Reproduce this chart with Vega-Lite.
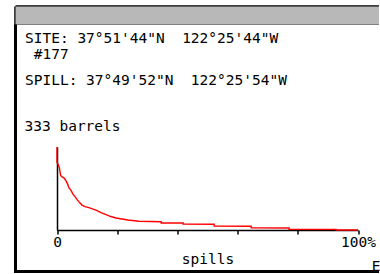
{
  "$schema": "https://vega.github.io/schema/vega-lite/v6.json",
  "padding": {"left": 13.5, "top": 4.5, "right": -3, "bottom": -0.5},
  "background": "white",
  "spacing": 0,
  "bounds": "flush",
  "config": {"font": "DejaVu Sans Mono", "view": {"stroke": null}},
  "vconcat": [
    {
      "width": 363.5,
      "height": 17.5,
      "view": {"stroke": "black", "strokeWidth": 2.5, "strokeDash": [363.5, 17.5, 381, 0]},
      "data": {"values": [{"part": "title bar"}]},
      "mark": {"type": "rect", "color": "#b8b8b8"}
    },
    {
      "width": 363.5,
      "height": 247,
      "view": {"stroke": "black", "strokeWidth": 3, "strokeDash": [0, 610.5, 610.5, 0], "fill": "white"},
      "title": {
        "text": ["SITE: 37°51'44\"N\u00a0\u00a0122°25'44\"W", "\u200b\u00a0#177"],
        "subtitle": "SPILL: 37°49'52\"N\u00a0\u00a0122°25'54\"W",
        "anchor": "start",
        "frame": "group",
        "orient": "top",
        "offset": -63.5,
        "dx": 9.5,
        "baseline": "top",
        "font": "DejaVu Sans Mono",
        "fontSize": 14.5,
        "fontWeight": "normal",
        "color": "black",
        "lineHeight": 16,
        "subtitleFont": "DejaVu Sans Mono",
        "subtitleFontSize": 14.5,
        "subtitleColor": "black",
        "subtitlePadding": 11
      },
      "layer": [
        {
          "data": {"values": [
            {"i": 0, "pct": 0, "barrels": 333},
            {"i": 1, "pct": 0, "barrels": 271},
            {"i": 2, "pct": 0.4, "barrels": 263},
            {"i": 3, "pct": 0.8, "barrels": 249},
            {"i": 4, "pct": 1.2, "barrels": 219},
            {"i": 5, "pct": 1.7, "barrels": 213},
            {"i": 6, "pct": 2.3, "barrels": 209},
            {"i": 7, "pct": 3.0, "barrels": 197},
            {"i": 8, "pct": 3.5, "barrels": 185},
            {"i": 9, "pct": 4.0, "barrels": 169},
            {"i": 10, "pct": 4.7, "barrels": 158},
            {"i": 11, "pct": 5.3, "barrels": 144},
            {"i": 12, "pct": 6.0, "barrels": 134},
            {"i": 13, "pct": 6.8, "barrels": 120},
            {"i": 14, "pct": 7.5, "barrels": 110},
            {"i": 15, "pct": 8.3, "barrels": 100},
            {"i": 16, "pct": 9.3, "barrels": 94},
            {"i": 17, "pct": 10.6, "barrels": 90},
            {"i": 18, "pct": 12.0, "barrels": 84},
            {"i": 19, "pct": 13.3, "barrels": 78},
            {"i": 20, "pct": 14.6, "barrels": 70},
            {"i": 21, "pct": 16.3, "barrels": 62},
            {"i": 22, "pct": 17.9, "barrels": 54},
            {"i": 23, "pct": 19.6, "barrels": 48},
            {"i": 24, "pct": 21.6, "barrels": 44},
            {"i": 25, "pct": 23.6, "barrels": 40},
            {"i": 26, "pct": 27.2, "barrels": 35},
            {"i": 27, "pct": 34.6, "barrels": 33},
            {"i": 28, "pct": 34.6, "barrels": 28},
            {"i": 29, "pct": 41.9, "barrels": 28},
            {"i": 30, "pct": 41.9, "barrels": 24},
            {"i": 31, "pct": 52.2, "barrels": 23},
            {"i": 32, "pct": 52.2, "barrels": 16},
            {"i": 33, "pct": 64.5, "barrels": 15},
            {"i": 34, "pct": 64.5, "barrels": 9},
            {"i": 35, "pct": 77.1, "barrels": 8},
            {"i": 36, "pct": 77.1, "barrels": 3},
            {"i": 37, "pct": 92.7, "barrels": 2.5},
            {"i": 38, "pct": 92.7, "barrels": 0},
            {"i": 39, "pct": 100, "barrels": 0}
          ]},
          "mark": {"type": "line", "color": "#ff0000", "strokeWidth": 1.4},
          "encoding": {
            "order": {"field": "i", "type": "quantitative"},
            "x": {
              "field": "pct", "type": "quantitative",
              "scale": {"domain": [0, 100], "range": [41.5, 342.5], "nice": false, "zero": false},
              "axis": {
                "orient": "bottom", "offset": -41.5,
                "values": [0, 10, 20, 30, 40, 50, 60, 70, 80, 90, 100],
                "labelExpr": "datum.value == 0 ? '0' : datum.value == 100 ? '100%' : ''",
                "tickSize": {"condition": {"test": "datum.value == 50", "value": 8}, "value": 4},
                "tickColor": "black", "tickWidth": 1.5,
                "domainColor": "black", "domainWidth": 1.5,
                "grid": false,
                "labelFont": "DejaVu Sans Mono", "labelFontSize": 14.5, "labelColor": "black",
                "labelPadding": 1, "labelFlush": false, "labelOverlap": false,
                "title": "spills", "titleFont": "DejaVu Sans Mono", "titleFontSize": 14.5,
                "titleFontWeight": "normal", "titleColor": "black", "titlePadding": 3.5
              }
            },
            "y": {
              "field": "barrels", "type": "quantitative",
              "scale": {"domain": [0, 333], "range": [205.5, 122.5], "nice": false, "zero": false},
              "axis": {
                "orient": "left", "offset": -41.5,
                "ticks": false, "labels": false, "grid": false,
                "domainColor": "black", "domainWidth": 1.5,
                "title": "333 barrels", "titleAngle": 0, "titleAlign": "left",
                "titleBaseline": "alphabetic", "titleX": -33, "titleY": 105.5,
                "titleFont": "DejaVu Sans Mono", "titleFontSize": 14.5,
                "titleFontWeight": "normal", "titleColor": "black"
              }
            }
          }
        },
        {
          "data": {"values": [{"label": "E"}]},
          "mark": {"type": "text", "align": "left", "baseline": "alphabetic", "font": "DejaVu Sans Mono", "fontSize": 14.5, "color": "black"},
          "encoding": {
            "x": {"datum": 104.6, "type": "quantitative"},
            "y": {"datum": -164.5, "type": "quantitative"},
            "text": {"field": "label"}
          }
        }
      ]
    }
  ]
}
